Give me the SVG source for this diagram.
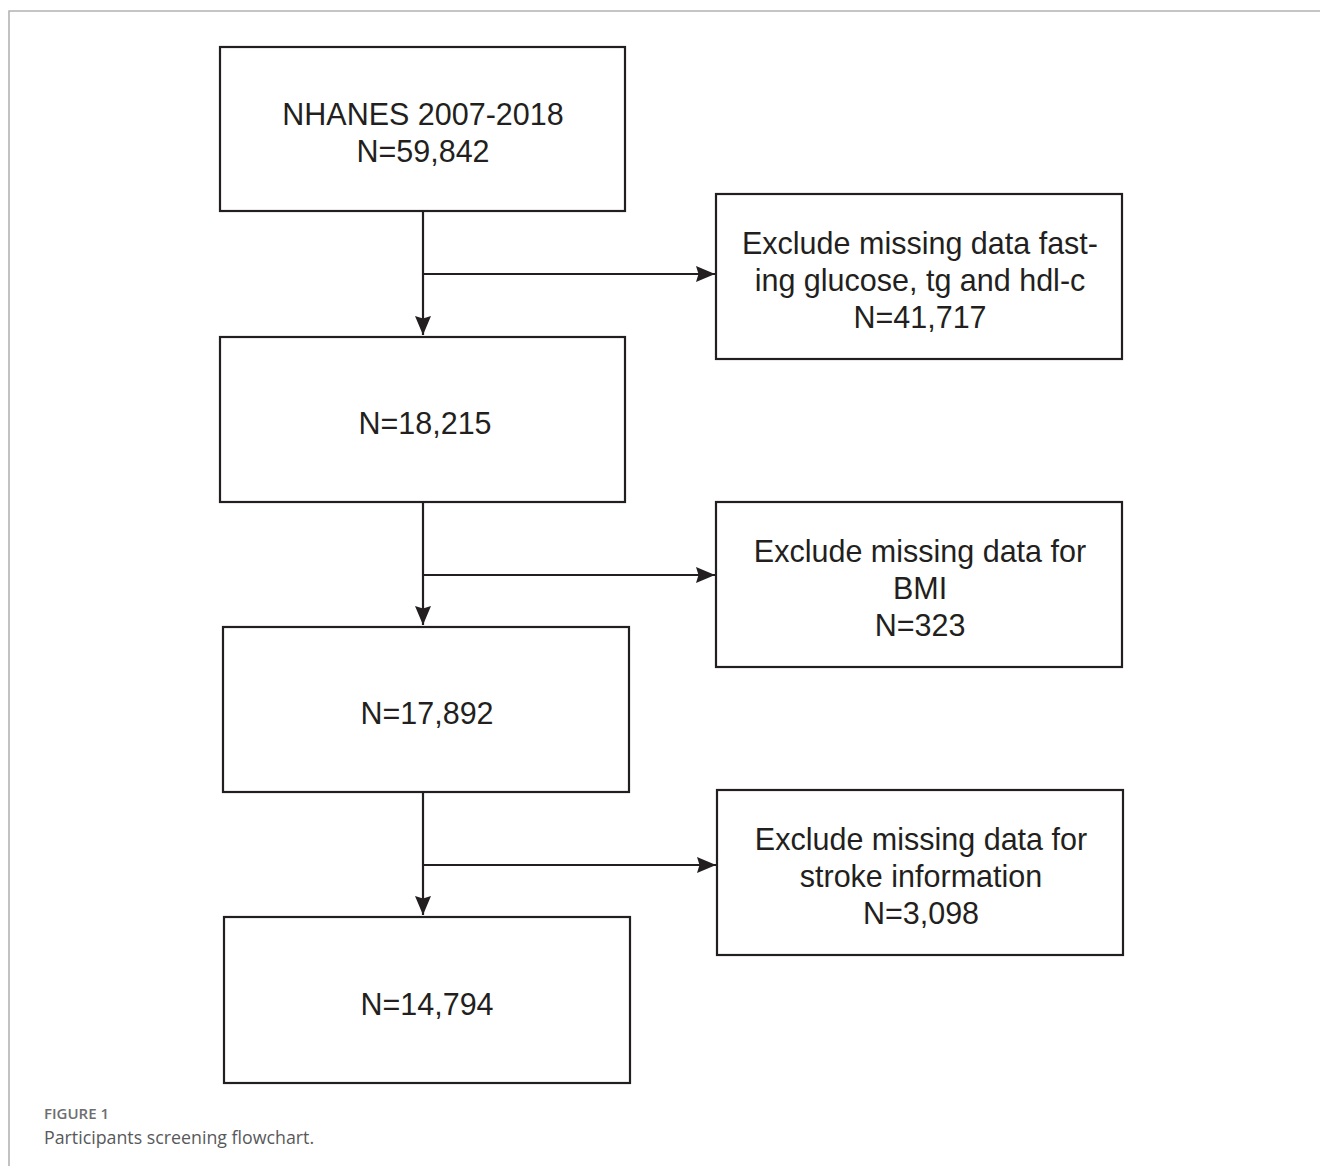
<svg xmlns="http://www.w3.org/2000/svg" width="1320" height="1166" viewBox="0 0 1320 1166">
<defs>
<marker id="arr" markerUnits="userSpaceOnUse" markerWidth="21" markerHeight="18" viewBox="-20 -9 21 18" refX="0" refY="0" orient="auto">
<path d="M0,0 L-19,-8 L-16.5,0 L-19,8 Z" fill="#231f20"/>
</marker>
<style>
.box{fill:#fff;stroke:#231f20;stroke-width:2.2}
.t{font-family:"Liberation Sans",Arial,sans-serif;font-size:30.5px;fill:#231f20;text-anchor:middle}
.c{fill:none;stroke:#231f20;stroke-width:2.2}
.cap1{font-family:"Open Sans",sans-serif;font-size:15px;font-weight:600;fill:#6d6e71}
.cap2{font-family:"Open Sans",sans-serif;font-size:17.8px;fill:#58595b}
</style>
</defs>
<rect width="1320" height="1166" fill="#fff"/>
<path d="M1320,11 H9 V1166" fill="none" stroke="#b3b3b3" stroke-width="1.6"/>
<g id="connectors">
<path class="c" d="M423,212 V335" marker-end="url(#arr)"/>
<path class="c" d="M423,274 H715" marker-end="url(#arr)"/>
<path class="c" d="M423,502 V625" marker-end="url(#arr)"/>
<path class="c" d="M423,575 H715" marker-end="url(#arr)"/>
<path class="c" d="M423,792 V915" marker-end="url(#arr)"/>
<path class="c" d="M423,865 H716" marker-end="url(#arr)"/>
</g>
<g id="n1">
<rect class="box" x="220" y="47" width="405" height="164"/>
<text class="t" x="423" y="125">NHANES 2007-2018</text>
<text class="t" x="423" y="162">N=59,842</text>
</g>
<g id="n2">
<rect class="box" x="220" y="337" width="405" height="165"/>
<text class="t" x="425" y="434">N=18,215</text>
</g>
<g id="n3">
<rect class="box" x="223" y="627" width="406" height="165"/>
<text class="t" x="427" y="724">N=17,892</text>
</g>
<g id="n4">
<rect class="box" x="224" y="917" width="406" height="166"/>
<text class="t" x="427" y="1015">N=14,794</text>
</g>
<g id="e1">
<rect class="box" x="716" y="194" width="406" height="165"/>
<text class="t" x="920" y="254">Exclude missing data fast-</text>
<text class="t" x="920" y="291">ing glucose, tg and hdl-c</text>
<text class="t" x="920" y="328">N=41,717</text>
</g>
<g id="e2">
<rect class="box" x="716" y="502" width="406" height="165"/>
<text class="t" x="920" y="562">Exclude missing data for</text>
<text class="t" x="920" y="599">BMI</text>
<text class="t" x="920" y="636">N=323</text>
</g>
<g id="e3">
<rect class="box" x="717" y="790" width="406" height="165"/>
<text class="t" x="921" y="850">Exclude missing data for</text>
<text class="t" x="921" y="887">stroke information</text>
<text class="t" x="921" y="924">N=3,098</text>
</g>
<text class="cap1" x="44" y="1119">FIGURE 1</text>
<text class="cap2" x="44" y="1144">Participants screening flowchart.</text>
</svg>
